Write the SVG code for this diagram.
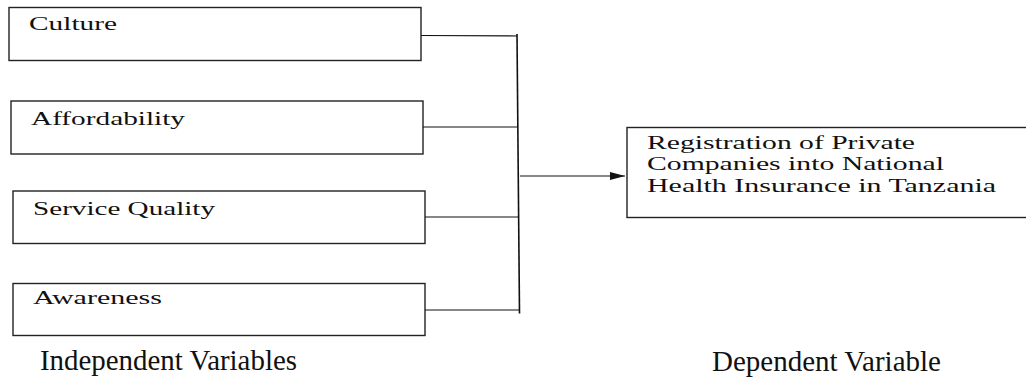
<svg xmlns="http://www.w3.org/2000/svg" width="1026" height="379" viewBox="0 0 1026 379">
<style>
.box{fill:#fff;stroke:#222;stroke-width:1.4}
.lbl{font-family:"Liberation Serif","Times New Roman",serif;font-size:18px;fill:#111}
.cap{font-family:"Liberation Serif","Times New Roman",serif;font-size:29px;fill:#111}
.con{stroke:#111;stroke-width:1.2;fill:none}
</style>
<defs>
<marker id="ah" markerWidth="15" markerHeight="8" refX="15" refY="4" orient="auto" markerUnits="userSpaceOnUse">
<path d="M0,0 L15,4 L0,8 Z" fill="#111"/>
</marker>
</defs>
<rect width="1026" height="379" fill="#fff"/>
<g id="culture">
<rect class="box" x="9" y="7.5" width="412" height="53"/>
<text class="lbl" x="29" y="29.5" textLength="88" lengthAdjust="spacingAndGlyphs">Culture</text>
</g>
<g id="affordability">
<rect class="box" x="11" y="101" width="412" height="53"/>
<text class="lbl" x="31" y="125" textLength="154" lengthAdjust="spacingAndGlyphs">Affordability</text>
</g>
<g id="service-quality">
<rect class="box" x="13" y="191" width="412" height="52.5"/>
<text class="lbl" x="33" y="215" textLength="182" lengthAdjust="spacingAndGlyphs">Service Quality</text>
</g>
<g id="awareness">
<rect class="box" x="13" y="283.5" width="412" height="52"/>
<text class="lbl" x="33" y="304" textLength="129" lengthAdjust="spacingAndGlyphs">Awareness</text>
</g>
<g id="dependent">
<rect class="box" x="627" y="127.5" width="402" height="90"/>
<text class="lbl" x="647" y="149" textLength="268" lengthAdjust="spacingAndGlyphs">Registration of Private</text>
<text class="lbl" x="647" y="170" textLength="297" lengthAdjust="spacingAndGlyphs">Companies into National</text>
<text class="lbl" x="647" y="191.5" textLength="349" lengthAdjust="spacingAndGlyphs">Health Insurance in Tanzania</text>
</g>
<g id="connectors">
<line class="con" x1="421" y1="35.5" x2="517" y2="36"/>
<line class="con" x1="423" y1="127" x2="518" y2="127"/>
<line class="con" x1="425" y1="217" x2="519" y2="217"/>
<line class="con" x1="425" y1="310" x2="519" y2="310"/>
<line class="con" x1="517" y1="34" x2="519.5" y2="313.5" style="stroke-width:1.6"/>
<line class="con" x1="520" y1="176" x2="625" y2="176" marker-end="url(#ah)"/>
</g>
<g id="captions">
<text class="cap" x="40" y="370" textLength="257" lengthAdjust="spacingAndGlyphs">Independent Variables</text>
<text class="cap" x="712" y="371">Dependent Variable</text>
</g>
</svg>
